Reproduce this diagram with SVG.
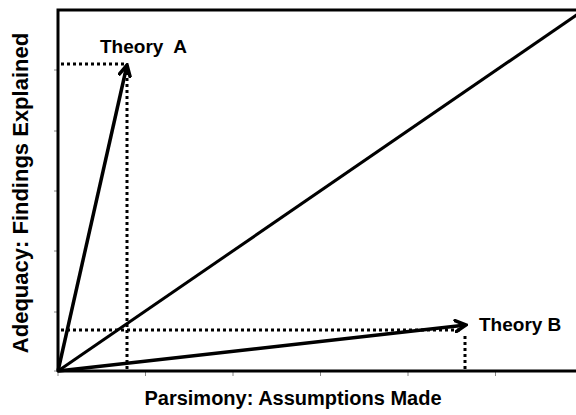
<svg xmlns="http://www.w3.org/2000/svg" width="576" height="415" viewBox="0 0 576 415">
<defs>
<style>
.ax{stroke:#000;stroke-width:3;fill:none}
.tick{stroke:#888;stroke-width:1}
.vec{stroke:#000;stroke-width:3.5;fill:none;marker-end:url(#ah)}
.diag{stroke:#000;stroke-width:3;fill:none}
.dot{stroke:#000;stroke-width:3;stroke-dasharray:3 3;fill:none}
.lbl{font-family:"Liberation Sans",Arial,sans-serif;font-weight:bold;fill:#000}
</style>
<marker id="ah" markerWidth="14" markerHeight="14" viewBox="0 0 14 14" refX="12" refY="7" orient="auto" markerUnits="userSpaceOnUse">
<path d="M1.5,1.5 L12,7 L1.5,12.5" fill="none" stroke="#000" stroke-width="3.5" stroke-linecap="round" stroke-linejoin="miter"/>
</marker>
</defs>
<rect width="576" height="415" fill="#fff"/>
<g id="axes">
<path class="tick" d="M54,70H58M54,131H58M54,191H58M54,251H58M54,312H58M54,371H58"/>
<path class="tick" d="M58,371V376M145.5,371V376M233,371V376M320.5,371V376M408,371V376M495.5,371V376"/>
<path class="ax" d="M58,372V10H576"/>
<path class="ax" d="M57,371H576"/>
</g>
<g id="connectors">
<path class="dot" d="M61,64H124"/>
<path class="dot" d="M127,72V371"/>
<path class="dot" d="M61,330H460"/>
<path class="dot" d="M465,336V371"/>
<path class="diag" d="M58,371L578,14"/>
<path class="vec" d="M58,371L127,65"/>
<path class="vec" d="M58,371L466,325"/>
</g>
<g id="theoryA"><text class="lbl" x="100" y="53" font-size="19" xml:space="preserve">Theory  A</text></g>
<g id="theoryB"><text class="lbl" x="479" y="331" font-size="19">Theory B</text></g>
<g id="xlabel"><text class="lbl" x="293" y="405" font-size="20" text-anchor="middle">Parsimony: Assumptions Made</text></g>
<g id="ylabel"><text class="lbl" transform="translate(28,193) rotate(-90)" font-size="22" text-anchor="middle">Adequacy: Findings Explained</text></g>
</svg>
